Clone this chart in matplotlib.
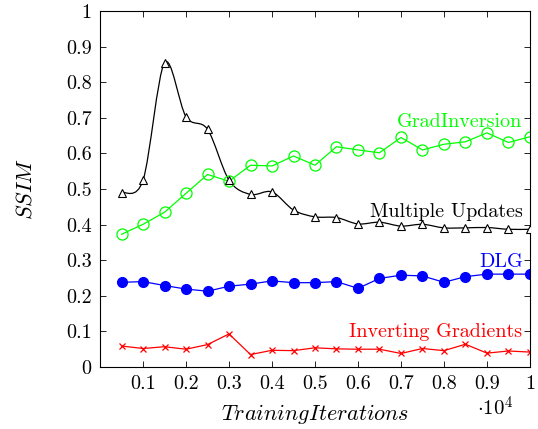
import numpy as np
import matplotlib
matplotlib.use("Agg")
import matplotlib.pyplot as plt
from matplotlib.path import Path
from matplotlib.patches import PathPatch

plt.rcParams['font.family'] = 'serif'
plt.rcParams['font.serif'] = ['cmr10', 'DejaVu Serif']
plt.rcParams['mathtext.fontset'] = 'cm'
plt.rcParams['axes.formatter.use_mathtext'] = True

# training iterations (x 10^4)
iters = [0.05, 0.1, 0.15, 0.2, 0.25, 0.3, 0.35, 0.4, 0.45, 0.5,
         0.55, 0.6, 0.65, 0.7, 0.75, 0.8, 0.85, 0.9, 0.95, 1.0]

multiple_updates = [0.49, 0.525, 0.855, 0.703, 0.668, 0.525, 0.485, 0.492, 0.441, 0.422,
                    0.42, 0.402, 0.407, 0.396, 0.401, 0.391, 0.391, 0.392, 0.387, 0.387]
grad_inversion = [0.373, 0.401, 0.435, 0.488, 0.541, 0.522, 0.567, 0.565, 0.593, 0.567,
                  0.619, 0.61, 0.602, 0.645, 0.61, 0.626, 0.633, 0.658, 0.631, 0.647]
dlg = [0.238, 0.24, 0.229, 0.219, 0.213, 0.227, 0.233, 0.242, 0.237, 0.237,
       0.24, 0.221, 0.249, 0.258, 0.256, 0.238, 0.254, 0.261, 0.261, 0.261]
inverting = [0.059, 0.052, 0.057, 0.05, 0.063, 0.093, 0.035, 0.047, 0.046, 0.054,
             0.051, 0.05, 0.05, 0.038, 0.052, 0.046, 0.064, 0.039, 0.045, 0.042]


def smooth_path(xs, ys, k=0.16):
    # bezier path through the points, tangents from neighbours (like tikz "smooth")
    pts = np.column_stack([xs, ys])
    n = len(pts)
    verts = [pts[0]]
    codes = [Path.MOVETO]
    for i in range(n - 1):
        p0 = pts[i - 1] if i > 0 else pts[i]
        p1 = pts[i]
        p2 = pts[i + 1]
        p3 = pts[i + 2] if i + 2 < n else pts[i + 1]
        c1 = p1 + (p2 - p0) * k
        c2 = p2 - (p3 - p1) * k
        verts += [c1, c2, p2]
        codes += [Path.CURVE4] * 3
    return Path(verts, codes)


fig = plt.figure(figsize=(5.38, 4.29), dpi=100)
ax = fig.add_axes([0.186, 0.1445, 0.799, 0.8295])

# multiple updates is drawn smooth, the others as straight segments
ax.add_patch(PathPatch(smooth_path(iters, multiple_updates), fc='none', ec='black', lw=0.9, zorder=2))
ax.plot(iters, multiple_updates, ls='none', marker='^', mfc='white', mec='black', ms=5.5, mew=0.8, zorder=3)
ax.plot(iters, grad_inversion, color='#00ff00', lw=0.9, marker='o', mfc='none', mec='#00ff00', ms=8, mew=0.9)
ax.plot(iters, dlg, color='blue', lw=0.9, marker='o', mfc='blue', mec='blue', ms=7)
ax.plot(iters, inverting, color='red', lw=0.9, marker='x', mec='red', ms=4.5, mew=0.9)

ax.text(0.983, 0.688, 'GradInversion', color='#00ff00', ha='right', va='center', fontsize=14.5)
ax.text(0.983, 0.437, 'Multiple Updates', color='black', ha='right', va='center', fontsize=14.5)
ax.text(0.983, 0.295, 'DLG', color='blue', ha='right', va='center', fontsize=14.5)
ax.text(0.983, 0.097, 'Inverting Gradients', color='red', ha='right', va='center', fontsize=14.5)

ax.set_xlim(0, 1)
ax.set_ylim(0, 1)
ax.set_xticks([0.1, 0.2, 0.3, 0.4, 0.5, 0.6, 0.7, 0.8, 0.9, 1.0])
ax.set_xticklabels(['0.1', '0.2', '0.3', '0.4', '0.5', '0.6', '0.7', '0.8', '0.9', '1'])
ax.set_yticks(np.arange(0, 1.01, 0.1))
ax.set_yticklabels(['0', '0.1', '0.2', '0.3', '0.4', '0.5', '0.6', '0.7', '0.8', '0.9', '1'])
ax.tick_params(direction='in', top=True, right=True, labelsize=14.5, length=4, width=0.6, pad=6)
for s in ax.spines.values():
    s.set_linewidth(0.8)

ax.set_xlabel('$TrainingIterations$', fontsize=16, labelpad=6)
ax.set_ylabel('$SSIM$', fontsize=16, labelpad=22)
fig.text(0.955, 0.03, r'$\cdot 10^4$', fontsize=15, ha='right')

fig.savefig('out.png', dpi=100)
